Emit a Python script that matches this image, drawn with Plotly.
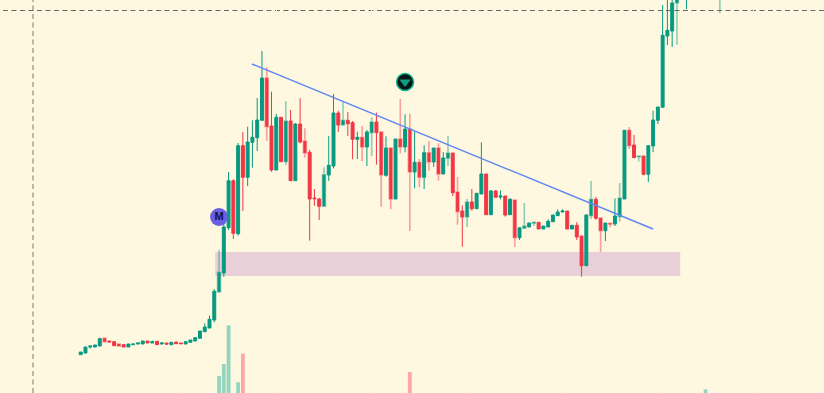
import plotly.graph_objects as go

opens = [38.3,40,46,46,47,54.7,52,51.3,49,48.3,46,48.3,49,49,52,50,51.7,49,50,48.3,50.7,50,49,50.7,52,54.7,61.3,65,73,101,
120,165.3,212.3,159.3,247.3,215.7,250.7,255.3,272.7,315,267,223,275.7,231.3,272,212.3,269,252,240.7,195,
194,186.7,218,227,280,268,272.7,270.3,253.7,255.7,246,260.3,271,261,217.7,245,194,254,246,264,
221,230.7,215.7,240.3,231,245,219,234.7,240,201,182,176,191,184.3,199,219,178.3,202,196,197,
178.3,193,155.3,164.7,166,169.7,170.7,164,166,171.3,177.3,181,182,164,167.7,157,127.3,177.3,193.7,175,
162.3,169.7,169,176.3,194,262.7,248,236.3,237,218.7,247,272.7,285.7,357,362,390,401,405,408,412,
410,414,409,411,410]
highs = [41,46,47,48,55.3,55,52,51.5,49,48.5,49,49,50,52,52,52.5,52,51,50,51,52,50,51.5,53,55.5,62,69.7,77.3,104,143,
170,221,213.7,250,261,266.3,272.7,295,342,325.7,301.3,279,276,291.7,283,270,294.7,264.7,243,204,
195,225.7,257,299,282.3,291.3,281,272,261.3,267,263,275.7,280.3,261,256.7,245,254,294,278.7,279.3,
262,234,247.7,252,245,249.7,241,257,240,216,187.7,194,204,199.7,250.7,219,203,203,202.7,197,
195,193,165.3,190,170,170.7,171,167,173.7,178,183.7,183.7,182,167.7,170.7,157,178.7,212,196,175,
170,170,194.7,210,262.7,266,258,237,237,247.3,282.3,286,388,400,400,405,420,415,422,425,
420,426,418,420,425]
lows = [38.3,39.7,44.3,46,47,51,51,47,47,46,46,48.3,49,49,50,50,48,48.7,48,48.3,49.3,49.3,49,50.5,52,54.5,61,65,70.7,100.3,
116.3,163,154,157.3,182,207,225.3,242,272.5,252.3,221.3,223,231,228,212,212,249.7,235.3,152.3,187.3,
173,186.7,212,224.7,261,268,257,233.7,234,232,227,237,228.3,186.3,216.3,183.7,194,239.7,240.7,162,
204.7,205.7,204,222.3,226,212.3,219,227,197,168.3,146.3,166,182.3,184.3,199,178,178,195.7,193.7,176.3,
178,146,153,164.7,166,167,164,164,166,171,177,181,164,164,153,116.3,127.3,174,173.3,141,
152,165.7,167,171.3,194,244,235,231.5,217.7,211,241,269,285.7,348,346,348.3,396,384,400,402,
400,404,400,401,379.7]
closes = [41,46,47,48,54.3,51.3,51,47.3,47,46,49,49,50,52,50,51.3,48.3,50,49,50.7,49.3,49.3,51.3,53,55.3,62,66,73.7,101.7,120.7,
166,212.3,159.7,247.3,215.7,251,255.7,273,315,266.3,223,275.7,231.3,272,212.3,269,251,240,194,194.3,
186.7,218.3,227.7,280,268,272.7,269.3,253.7,255.7,246,261,271,260.3,218,245,194,254,246,264,221,
230.7,215.7,240.3,231,245,219,235,240,200.3,181.3,176,191,184.3,199.7,219,178.3,202,195.7,197,178,
193.7,155.3,165.3,167,170,170.7,164,167,171.7,178,181,182,164,167.7,156,127.3,178,193.7,174.7,162.3,
170,168.7,177,195,262.7,247.3,235.3,237,218.7,247.3,273,286,357.7,362.7,390,401,406,410,412,415,
414,418,411,414,415]

pale_candles = [5,8,29,39,43,47,51,55,59,61,63,65,67,69,71,73,75,77,79,81,91,93,95,107,109,111,113,115,117,125,134]

volume_index = [29,30,31,33,34,69,131]
volume_values = [17,29,67.7,10.7,39.3,21,3.7]

trend_start = (35.9,329)
trend_end = (120,164)
zone_x = (28.2,125.7)
zone_y = (117,141)
cross_x = -10
cross_y = 382.5
grid_index = [1,21,41,61,81,101,121,141]

GREEN = "#089981"
RED = "#f23645"
BG = "#fdf8df"

def pick(seq, idx):
    return [seq[i] for i in idx]

all_idx = list(range(len(opens)))
solid = [i for i in all_idx if i not in pale_candles]

fig = go.Figure()

vol_up = [closes[i] >= opens[i] if i < len(opens) else True for i in volume_index]
fig.add_trace(go.Bar(x=volume_index, y=volume_values, width=0.8,
                     marker=dict(color=["#93d5bf" if u else "#ffa6a6" for u in vol_up], line_width=0),
                     yaxis="y2", hoverinfo="skip"))

for idx, gc, rc, lw in [
    (pale_candles, "rgba(8,153,129,0.45)", "rgba(242,54,69,0.45)", 1.6),
    (solid, GREEN, RED, 1),
]:
    fig.add_trace(go.Candlestick(
        x=idx, open=pick(opens, idx), high=pick(highs, idx), low=pick(lows, idx), close=pick(closes, idx),
        increasing=dict(line=dict(color=gc, width=lw), fillcolor=GREEN),
        decreasing=dict(line=dict(color=rc, width=lw), fillcolor=RED),
        whiskerwidth=0, hoverinfo="skip"))

fig.add_trace(go.Scatter(x=[29], y=[176], mode="markers+text", text=["M"], textposition="middle center",
                         textfont=dict(family="Liberation Sans", size=11, color="#14123a", weight="bold"),
                         marker=dict(size=18, color="#6a5ee4", line=dict(width=0)), hoverinfo="skip"))
fig.add_trace(go.Scatter(x=[68], y=[311], mode="markers",
                         marker=dict(size=17, color="#06171a", line=dict(width=1.5, color="#12b58c")), hoverinfo="skip"))
fig.add_trace(go.Scatter(x=[68], y=[311], mode="markers",
                         marker=dict(size=10, symbol="triangle-down", color="#0f9f7c", line=dict(width=0)),
                         hoverinfo="skip"))

fig.add_shape(type="rect", x0=zone_x[0], x1=zone_x[1], y0=zone_y[0], y1=zone_y[1],
              fillcolor="#e9cfd7", line_width=0, layer="between")
fig.add_shape(type="line", x0=trend_start[0], y0=trend_start[1], x1=trend_end[0], y1=trend_end[1],
              line=dict(color="#5f86f5", width=1.4))
fig.add_shape(type="line", x0=cross_x, x1=cross_x, y0=0, y1=393, layer="below",
              line=dict(color="#777777", width=1, dash="5px,3.5px"))
fig.add_shape(type="line", x0=-16.3, x1=156, y0=cross_y, y1=cross_y, layer="below",
              line=dict(color="#666666", width=1, dash="5px,3.5px"))

fig.update_layout(
    width=824, height=393, margin=dict(l=0, r=0, t=0, b=0),
    paper_bgcolor=BG, plot_bgcolor=BG, showlegend=False, boxgap=0.12, boxmode="overlay",
    xaxis=dict(range=[-16.92, 155.83], rangeslider_visible=False, tickvals=grid_index,
               showticklabels=False, ticks="", showgrid=True, gridcolor="#fbf6dd", gridwidth=1, zeroline=False, showline=False),
    yaxis=dict(range=[0, 393], visible=False, showgrid=False, zeroline=False),
    yaxis2=dict(range=[0, 393], overlaying="y", visible=False, showgrid=False, zeroline=False),
)
fig.write_html("out.html", config=dict(displayModeBar=False),
               post_script="document.body.style.margin='0';document.body.style.background='#fdf8df';document.body.style.overflow='hidden';")
